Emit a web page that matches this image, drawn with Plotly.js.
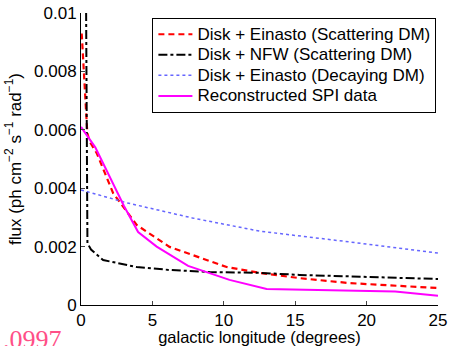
<!DOCTYPE html>
<html><head><meta charset="utf-8">
<script src="https://cdn.plot.ly/plotly-3.0.1.min.js"></script>
<style>html,body{margin:0;padding:0;background:#fff}#c{width:449px;height:346px}</style>
</head><body><div id="c"></div>
<script>
const einastoScatX = [0.05, 0.28, 0.44, 0.6, 1.1, 2.25, 3.9, 6.2, 10.2, 12.5, 15.3, 18.8, 25];
const einastoScatY = [0.0093, 0.0074, 0.0059, 0.0056, 0.0052, 0.00383, 0.00274, 0.00199, 0.0013, 0.0011, 0.00092, 0.00075, 0.00058];
const nfwX = [0.33, 0.38, 0.45, 0.7, 1.55, 3.9, 6.2, 9, 12.5, 15.3, 20, 25];
const nfwY = [0.0125, 0.006, 0.00212, 0.0019, 0.00154, 0.0013, 0.0012, 0.00113, 0.0011, 0.00103, 0.00096, 0.00089];
const decayX = [0, 3.2, 7.8, 12.5, 18.8, 25];
const decayY = [0.00394, 0.0035, 0.00298, 0.00253, 0.00216, 0.00178];
const spiX = [0, 1, 2, 3, 4, 5.3, 7.5, 10.4, 13, 22, 25];
const spiY = [0.0061, 0.0054, 0.0044, 0.0034, 0.0025, 0.002, 0.00134, 0.00086, 0.00055, 0.00046, 0.00032];
const names = ['Disk + Einasto (Scattering DM)', 'Disk + NFW (Scattering DM)', 'Disk + Einasto (Decaying DM)', 'Reconstructed SPI data'];
const xTicks = [0, 5, 10, 15, 20, 25];
const yTicks = [0, 0.002, 0.004, 0.006, 0.008, 0.01];
const yTickText = ['0', '0.002', '0.004', '0.006', '0.008', '0.01'];

const fam = 'Liberation Sans, Arial, sans-serif';
const big = n => '<span style="font-size:17px">' + n + '</span>';
const traces = [
  {x: einastoScatX, y: einastoScatY, name: big(names[0]), mode: 'lines', line: {color: '#ff0000', width: 2.2, dash: '6px,4px'}},
  {x: nfwX, y: nfwY, name: big(names[1]), mode: 'lines', line: {color: '#000000', width: 2, dash: 'dashdot'}},
  {x: decayX, y: decayY, name: big(names[2]), mode: 'lines', line: {color: '#6666ff', width: 1.5, dash: 'dot'}},
  {x: spiX, y: spiY, name: big(names[3]), mode: 'lines', line: {color: '#ff00ff', width: 2}}
];
const layout = {
  width: 449, height: 346,
  margin: {l: 81, r: 11, t: 13, b: 41},
  paper_bgcolor: '#fff', plot_bgcolor: '#fff',
  font: {family: fam, size: 17, color: '#000'},
  showlegend: true,
  legend: {x: 0.2, y: 0.983, xanchor: 'left', yanchor: 'top', bgcolor: '#fff', bordercolor: '#000', borderwidth: 1,
    font: {family: fam, size: 13.5}, tracegroupgap: 0, itemwidth: 34},
  xaxis: {range: [0, 25], tickvals: xTicks, ticks: 'inside', ticklen: 4, showgrid: false, zeroline: false,
    showline: true, linecolor: '#000', linewidth: 1, tickfont: {size: 17},
    title: {text: 'galactic longitude (degrees)', font: {size: 16.5}, standoff: 3}},
  yaxis: {range: [0, 0.01], tickvals: yTicks, ticktext: yTickText, ticks: 'inside', ticklen: 4, showgrid: false, zeroline: false,
    showline: true, linecolor: '#000', linewidth: 1, tickfont: {size: 17},
    title: {text: 'flux (ph cm<sup>−2</sup> s<sup>−1</sup> rad<sup>−1</sup>)', font: {size: 17}, standoff: 8}},
  annotations: [{text: '.0997', xref: 'paper', yref: 'paper', x: -0.224, y: -0.06, xanchor: 'left', yanchor: 'top',
    showarrow: false, font: {family: 'Liberation Serif, DejaVu Serif, serif', size: 26, color: '#ff4f87'}}]
};
Plotly.newPlot('c', traces, layout, {displayModeBar: false, staticPlot: true});
</script></body></html>
